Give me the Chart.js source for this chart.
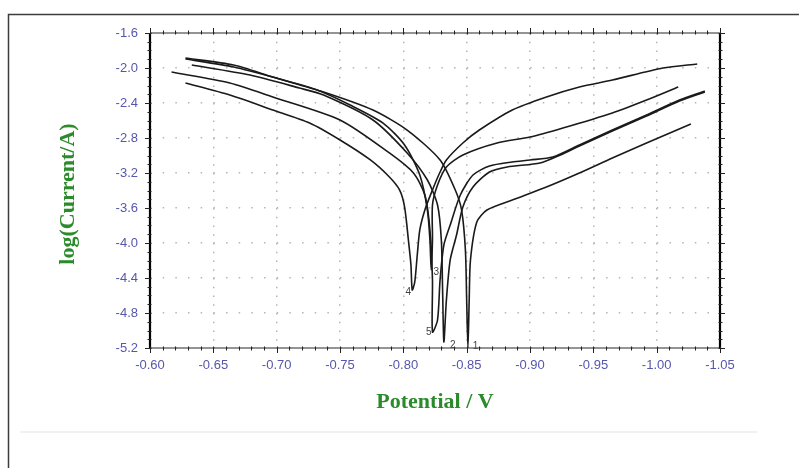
<!DOCTYPE html>
<html lang="en">
<head>
    <meta charset="UTF-8">
    <title>Tafel plots</title>
    <style>
        body {
            margin: 0;
            background-color: #fff;
        }
        #tafelChart {
            display: block;
        }
    </style>
</head>
<body>
    <canvas id="tafelChart" width="799" height="468"></canvas>

    <script src="https://cdn.jsdelivr.net/npm/chart.js"></script>
    <script>
        // --- Data: potential (V) and log(current/A) ---
        const curve1V = [-0.628, -0.666, -0.697, -0.737, -0.776, -0.803, -0.829, -0.841, -0.846, -0.849, -0.850, -0.851,
                         -0.852, -0.853, -0.858, -0.866, -0.886, -0.913, -0.939, -0.965, -0.992, -1.027];
        const curve1L = [-1.886, -1.966, -2.103, -2.274, -2.480, -2.709, -3.051, -3.394, -3.623, -4.080, -4.651, -5.200,
                         -4.651, -4.194, -3.760, -3.623, -3.509, -3.360, -3.200, -3.029, -2.857, -2.640];

        const curve2V = [-0.633, -0.679, -0.718, -0.737, -0.776, -0.803, -0.819, -0.827, -0.830, -0.831, -0.832,
                         -0.834, -0.837, -0.842, -0.847, -0.855, -0.868, -0.882, -0.908, -0.924, -0.939, -0.965, -0.992, -1.018, -1.038];
        const curve2L = [-1.966, -2.080, -2.229, -2.309, -2.594, -2.971, -3.280, -3.566, -3.966, -4.537, -5.131,
                         -4.651, -4.194, -3.909, -3.589, -3.360, -3.189, -3.131, -3.086, -2.994, -2.891, -2.720, -2.549, -2.377, -2.274];

        const curve3V = [-0.628, -0.666, -0.705, -0.732, -0.758, -0.784, -0.801, -0.813, -0.819, -0.821, -0.822,
                         -0.823, -0.823, -0.827, -0.834, -0.847, -0.874, -0.900, -0.926, -0.965, -0.992, -1.017];
        const curve3L = [-1.897, -1.989, -2.137, -2.251, -2.423, -2.629, -2.880, -3.223, -3.623, -3.966, -4.309,
                         -3.966, -3.566, -3.337, -3.131, -2.994, -2.857, -2.789, -2.686, -2.514, -2.366, -2.217];

        const curve4V = [-0.628, -0.663, -0.697, -0.726, -0.750, -0.774, -0.789, -0.797, -0.801, -0.804, -0.806, -0.807,
                         -0.809, -0.811, -0.813, -0.817, -0.823, -0.829, -0.834, -0.847, -0.860, -0.886, -0.913, -0.939, -0.965, -1.005, -1.032];
        const curve4L = [-2.171, -2.309, -2.480, -2.629, -2.823, -3.051, -3.246, -3.394, -3.589, -3.966, -4.250, -4.537,
                         -4.446, -4.137, -3.851, -3.623, -3.394, -3.189, -3.051, -2.857, -2.709, -2.480, -2.331, -2.217, -2.137, -2.000, -1.954];

        const curve5V = [-0.617, -0.663, -0.697, -0.750, -0.789, -0.808, -0.817, -0.821, -0.823, -0.823,
                         -0.827, -0.829, -0.832, -0.837, -0.845, -0.855, -0.868, -0.886, -0.900, -0.918, -0.939, -0.965, -0.992, -1.018, -1.038];
        const curve5L = [-2.046, -2.171, -2.331, -2.594, -2.971, -3.200, -3.451, -3.851, -4.423, -5.017,
                         -4.880, -4.423, -4.023, -3.794, -3.451, -3.223, -3.120, -3.074, -3.051, -3.017, -2.880, -2.709, -2.537, -2.366, -2.263];

        // curve numbers written next to each minimum
        const markText = ['1', '2', '3', '4', '5'];
        const markV = [-0.857, -0.839, -0.826, -0.804, -0.820];
        const markL = [-5.18, -5.17, -4.33, -4.56, -5.02];

        // axis ticks
        const xTickMin = -1.05, xTickMax = -0.60, xTickStep = 0.05;
        const yTickMin = -5.2, yTickMax = -1.6, yTickStep = 0.4;

        const labelColor = '#5656ad';
        const titleColor = '#2b8a2b';

        function toPoints(vs, ls) {
            return vs.map((v, i) => ({ x: v, y: ls[i] }));
        }

        const curves = [
            toPoints(curve1V, curve1L),
            toPoints(curve2V, curve2L),
            toPoints(curve3V, curve3L),
            toPoints(curve4V, curve4L),
            toPoints(curve5V, curve5L)
        ];

        // frame, minor ticks, titles and curve numbers
        const decorPlugin = {
            id: 'decor',
            beforeDraw(chart) {
                const ctx = chart.ctx;
                ctx.save();
                ctx.fillStyle = '#fff';
                ctx.fillRect(0, 0, chart.width, chart.height);
                ctx.strokeStyle = '#3c3c3c';
                ctx.lineWidth = 1.5;
                ctx.strokeRect(8.5, 14.5, chart.width, chart.height);
                ctx.strokeStyle = '#f1f1f1';
                ctx.lineWidth = 2;
                ctx.beginPath();
                ctx.moveTo(20, 432);
                ctx.lineTo(757, 432);
                ctx.stroke();
                ctx.restore();
            },
            afterDraw(chart) {
                const ctx = chart.ctx;
                const xs = chart.scales.x;
                const ys = chart.scales.y;
                const a = chart.chartArea;
                ctx.save();

                // box round the plot
                ctx.strokeStyle = '#2a2a2a';
                ctx.lineWidth = 1.2;
                ctx.beginPath();
                ctx.moveTo(a.left, a.top); ctx.lineTo(a.right, a.top);
                ctx.moveTo(a.left, a.bottom); ctx.lineTo(a.right, a.bottom);
                ctx.stroke();
                ctx.strokeStyle = '#000';
                ctx.lineWidth = 2.2;
                ctx.beginPath();
                ctx.moveTo(a.left, a.top); ctx.lineTo(a.left, a.bottom);
                ctx.moveTo(a.right, a.top); ctx.lineTo(a.right, a.bottom);
                ctx.stroke();

                // tick marks, major and minor
                ctx.strokeStyle = '#222';
                ctx.lineWidth = 1;
                ctx.beginPath();
                for (let k = 0; k <= 45; k++) {
                    const px = Math.round(xs.getPixelForValue(xTickMin + k * 0.01)) + 0.5;
                    const len = k % 5 === 0 ? 5 : 2.5;
                    ctx.moveTo(px, a.bottom - 1.5); ctx.lineTo(px, a.bottom + len);
                    ctx.moveTo(px, a.top + 1.5); ctx.lineTo(px, a.top - len);
                }
                for (let k = 0; k <= 36; k++) {
                    const py = Math.round(ys.getPixelForValue(yTickMin + k * 0.1)) + 0.5;
                    const len = k % 4 === 0 ? 5 : 2.5;
                    ctx.moveTo(a.left + 1.5, py); ctx.lineTo(a.left - len, py);
                    ctx.moveTo(a.right - 1.5, py); ctx.lineTo(a.right + len, py);
                }
                ctx.stroke();

                // numbers at the minima
                ctx.fillStyle = '#444';
                ctx.font = "10px 'Liberation Sans', Arial, sans-serif";
                ctx.textAlign = 'center';
                ctx.textBaseline = 'middle';
                markText.forEach((t, i) => {
                    ctx.fillText(t, xs.getPixelForValue(markV[i]), ys.getPixelForValue(markL[i]));
                });

                // axis titles
                ctx.fillStyle = titleColor;
                ctx.font = "bold 22px 'Liberation Serif', 'Times New Roman', serif";
                ctx.fillText('Potential / V', (a.left + a.right) / 2, 402);
                ctx.translate(68, 194);
                ctx.rotate(-Math.PI / 2);
                ctx.fillText('log(Current/A)', 0, 0);
                ctx.restore();
            }
        };

        const ctx = document.getElementById('tafelChart').getContext('2d');
        const tafelChart = new Chart(ctx, {
            type: 'scatter',
            data: {
                datasets: curves.map((pts, i) => ({
                    label: 'Curve ' + (i + 1),
                    data: pts,
                    showLine: true,
                    borderColor: '#1a1a1a',
                    borderWidth: 1.6,
                    pointRadius: 0,
                    tension: 0.25,
                    fill: false
                }))
            },
            options: {
                responsive: false,
                animation: false,
                layout: { padding: { top: 33, right: 79, left: 0, bottom: 0 } },
                plugins: {
                    legend: { display: false },
                    tooltip: { enabled: false }
                },
                scales: {
                    x: {
                        type: 'linear',
                        reverse: true,
                        min: xTickMin,
                        max: xTickMax,
                        afterFit(scale) { scale.height = 120; },
                        ticks: {
                            stepSize: xTickStep,
                            padding: 10,
                            color: labelColor,
                            font: { family: "'Liberation Sans', Arial, sans-serif", size: 13 },
                            callback: v => v.toFixed(2)
                        },
                        grid: { color: '#b5b5b5', lineWidth: 1.5, drawTicks: false },
                        border: { display: false, dash: [1.5, 7.25] }
                    },
                    y: {
                        min: yTickMin,
                        max: yTickMax,
                        afterFit(scale) { scale.width = 150; },
                        ticks: {
                            stepSize: yTickStep,
                            padding: 12,
                            color: labelColor,
                            font: { family: "'Liberation Sans', Arial, sans-serif", size: 13 },
                            callback: v => v.toFixed(1)
                        },
                        grid: { color: '#b5b5b5', lineWidth: 1.5, drawTicks: false },
                        border: { display: false, dash: [1.5, 11.17] }
                    }
                }
            },
            plugins: [decorPlugin]
        });
    </script>
</body>
</html>
